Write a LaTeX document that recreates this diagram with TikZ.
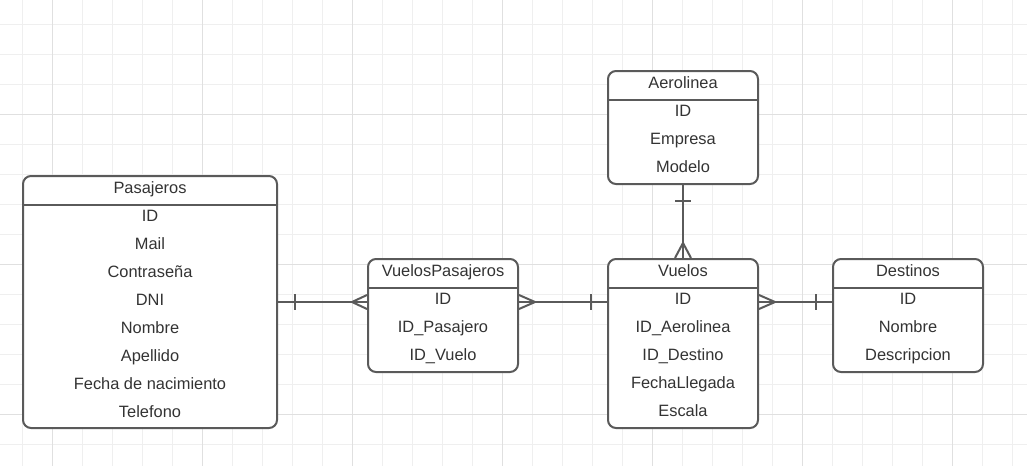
\documentclass[tikz,border=0pt]{standalone}
\usepackage{fontspec}
\setmainfont{Liberation Sans}
\usetikzlibrary{calc}
\definecolor{ln}{HTML}{5A5A5A}
\definecolor{gmin}{HTML}{EFEFEF}
\definecolor{gmaj}{HTML}{E0E0E0}
\definecolor{tx}{HTML}{333333}
\tikzset{
  entity/.style={draw=ln, line width=2pt, rounded corners=8pt, fill=white, anchor=north west, inner sep=0pt},
  fld/.style={font=\fontsize{16.4}{18}\selectfont, text=tx, inner sep=0pt, text height=11.8pt, text depth=3.4pt},
  rel/.style={draw=ln, line width=2pt},
  sep/.style={draw=ln, line width=2pt},
  gline/.style={gmin, line width=1pt},
  gmajor/.style={gmaj, line width=1pt},
}
\begin{document}
\begin{tikzpicture}[x=1pt,y=-1pt]
\useasboundingbox (0,0) rectangle (1027,466);
\fill[white] (0,0) rectangle (1027,466);
% grid
\foreach \x in {22,52,...,1012} \draw[gline] (\x,0) -- (\x,466);
\foreach \y in {24,54,...,454} \draw[gline] (0,\y) -- (1027,\y);
\foreach \x in {52,202,...,952} \draw[gmajor] (\x,0) -- (\x,466);
\foreach \y in {114,264,414} \draw[gmajor] (0,\y) -- (1027,\y);

% Pasajeros
\node[entity, minimum width=254pt, minimum height=252pt] (pas) at (22,175) {};
\draw[sep] ($(pas.north west)+(0,30)$) -- ($(pas.north east)+(0,30)$);
\node[fld] (pasT) at ($(pas.north)+(0,14.5)$) {Pasajeros};
\foreach \t [count=\i from 0] in {ID,Mail,Contraseña,DNI,Nombre,Apellido,Fecha de nacimiento,Telefono}
  \node[fld] (pas\i) at ($(pas.north)+(0,42.5+28*\i)$) {\t};

% VuelosPasajeros
\node[entity, minimum width=150pt, minimum height=113pt] (vp) at (367,258) {};
\draw[sep] ($(vp.north west)+(0,29.5)$) -- ($(vp.north east)+(0,29.5)$);
\node[fld] (vpT) at ($(vp.north)+(0,14.5)$) {VuelosPasajeros};
\foreach \t [count=\i from 0] in {ID,ID\_Pasajero,ID\_Vuelo}
  \node[fld] (vp\i) at ($(vp.north)+(0,42.5+28*\i)$) {\t};

% Vuelos
\node[entity, minimum width=150pt, minimum height=169pt] (vue) at (607,258) {};
\draw[sep] ($(vue.north west)+(0,29.5)$) -- ($(vue.north east)+(0,29.5)$);
\node[fld] (vueT) at ($(vue.north)+(0,14.5)$) {Vuelos};
\foreach \t [count=\i from 0] in {ID,ID\_Aerolinea,ID\_Destino,FechaLlegada,Escala}
  \node[fld] (vue\i) at ($(vue.north)+(0,42.5+28*\i)$) {\t};

% Destinos
\node[entity, minimum width=150pt, minimum height=113pt] (des) at (832,258) {};
\draw[sep] ($(des.north west)+(0,29.5)$) -- ($(des.north east)+(0,29.5)$);
\node[fld] (desT) at ($(des.north)+(0,14.5)$) {Destinos};
\foreach \t [count=\i from 0] in {ID,Nombre,Descripcion}
  \node[fld] (des\i) at ($(des.north)+(0,42.5+28*\i)$) {\t};

% Aerolinea
\node[entity, minimum width=150pt, minimum height=113pt] (aer) at (607,70) {};
\draw[sep] ($(aer.north west)+(0,29.5)$) -- ($(aer.north east)+(0,29.5)$);
\node[fld] (aerT) at ($(aer.north)+(0,14.5)$) {Aerolinea};
\foreach \t [count=\i from 0] in {ID,Empresa,Modelo}
  \node[fld] (aer\i) at ($(aer.north)+(0,42.5+28*\i)$) {\t};

% connector Pasajeros - VuelosPasajeros
\coordinate (a1) at (pas.east);
\coordinate (a2) at (vp.west |- pas.east);
\draw[rel] (a1) -- (a2);
\draw[rel] ($(a1)+(17,-8)$) -- ($(a1)+(17,8)$);
\draw[rel] ($(a2)+(-15,0)$) -- ($(a2)+(0,-7)$);
\draw[rel] ($(a2)+(-15,0)$) -- ($(a2)+(0,7)$);

% connector VuelosPasajeros - Vuelos
\coordinate (b1) at (vp.east |- pas.east);
\coordinate (b2) at (vue.west |- pas.east);
\draw[rel] (b1) -- (b2);
\draw[rel] ($(b1)+(16,0)$) -- ($(b1)+(0,-7)$);
\draw[rel] ($(b1)+(16,0)$) -- ($(b1)+(0,7)$);
\draw[rel] ($(b2)+(-16,-8)$) -- ($(b2)+(-16,8)$);

% connector Vuelos - Destinos
\coordinate (c1) at (vue.east |- pas.east);
\coordinate (c2) at (des.west |- pas.east);
\draw[rel] (c1) -- (c2);
\draw[rel] ($(c1)+(16,0)$) -- ($(c1)+(0,-7)$);
\draw[rel] ($(c1)+(16,0)$) -- ($(c1)+(0,7)$);
\draw[rel] ($(c2)+(-16,-8)$) -- ($(c2)+(-16,8)$);

% connector Aerolinea - Vuelos
\draw[rel] (aer.south) -- (vue.north);
\draw[rel] ($(aer.south)+(-8,16)$) -- ($(aer.south)+(8,16)$);
\draw[rel] ($(vue.north)+(0,-15)$) -- ($(vue.north)+(-8,0)$);
\draw[rel] ($(vue.north)+(0,-15)$) -- ($(vue.north)+(8,0)$);
\end{tikzpicture}
\end{document}
